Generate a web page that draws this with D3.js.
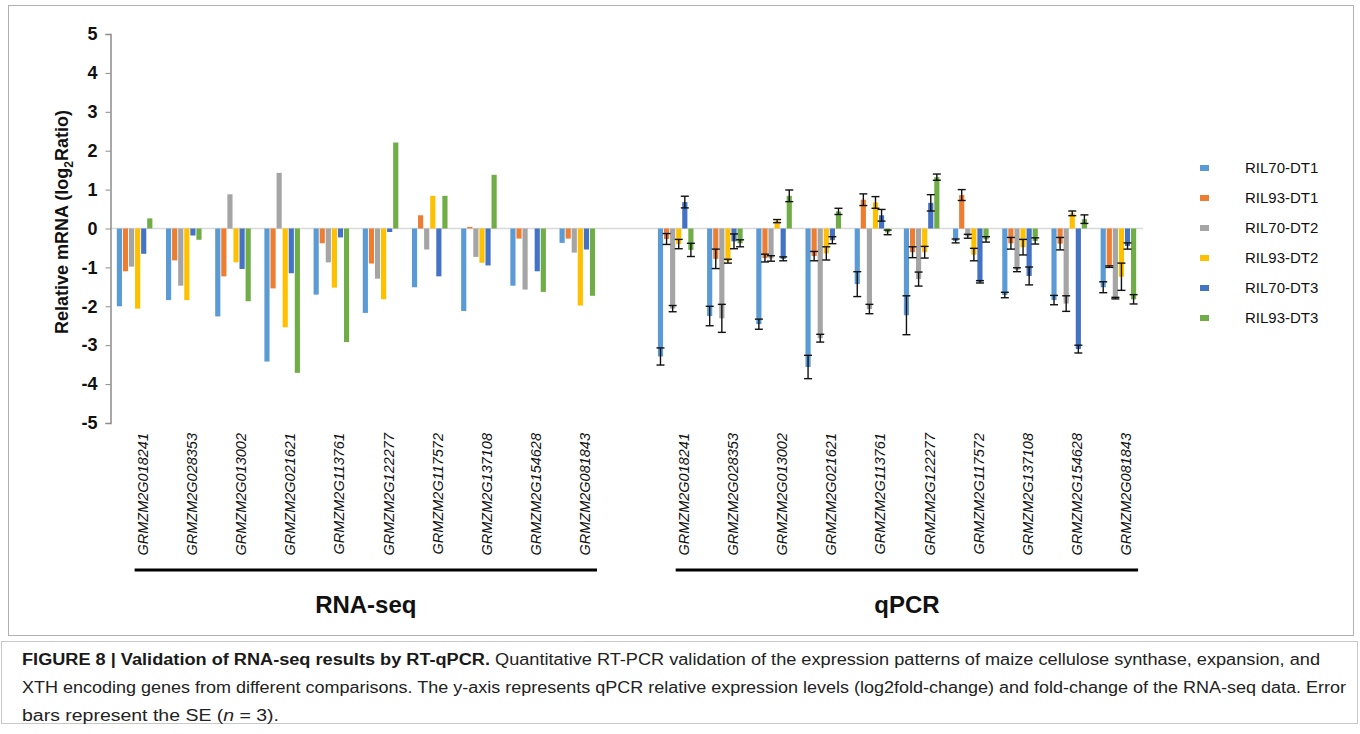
<!DOCTYPE html>
<html>
<head>
<meta charset="utf-8">
<script src="https://cdn.jsdelivr.net/npm/d3@7"></script>
<style>
  body { margin: 0; background: #fff; }
  svg { display: block; font-family: Arial, 'Liberation Sans', sans-serif; }
</style>
</head>
<body>
<div id="chart"></div>
<script>
const genes = [
  'GRMZM2G018241', 'GRMZM2G028353', 'GRMZM2G013002', 'GRMZM2G021621', 'GRMZM2G113761',
  'GRMZM2G122277', 'GRMZM2G117572', 'GRMZM2G137108', 'GRMZM2G154628', 'GRMZM2G081843'
]
const seriesNames = ['RIL70-DT1', 'RIL93-DT1', 'RIL70-DT2', 'RIL93-DT2', 'RIL70-DT3', 'RIL93-DT3']
const seriesColors = ['#5B9BD5', '#ED7D31', '#A5A5A5', '#FFC000', '#4472C4', '#70AD47']
const yTicks = [5, 4, 3, 2, 1, 0, -1, -2, -3, -4, -5]

// RNA-seq log2 ratios, one row per gene, columns follow seriesNames
const rnaSeq = [
  [-2.00, -1.10, -0.98, -2.06, -0.65, 0.26],
  [-1.84, -0.82, -1.47, -1.84, -0.18, -0.29],
  [-2.26, -1.23, 0.88, -0.87, -1.04, -1.87],
  [-3.42, -1.54, 1.43, -2.54, -1.15, -3.71],
  [-1.70, -0.38, -0.87, -1.52, -0.23, -2.92],
  [-2.17, -0.90, -1.29, -1.82, -0.09, 2.21],
  [-1.51, 0.34, -0.54, 0.84, -1.23, 0.84],
  [-2.12, 0.04, -0.73, -0.88, -0.95, 1.38],
  [-1.47, -0.26, -1.57, 0, -1.10, -1.63],
  [-0.37, -0.26, -0.62, -1.98, -0.54, -1.73]
]

// qPCR means and standard errors
const qpcr = [
  [-3.29, -0.27, -2.06, -0.40, 0.68, -0.55],
  [-2.25, -0.78, -2.31, -0.84, -0.33, -0.38],
  [-2.46, -0.76, -0.77, 0.19, -0.78, 0.84],
  [-3.56, -0.71, -2.82, -0.64, -0.30, 0.44],
  [-1.43, 0.74, -2.07, 0.67, 0.34, -0.10],
  [-2.23, -0.61, -1.30, -0.61, 0.66, 1.32],
  [-0.32, 0.86, -0.20, -0.67, -1.37, -0.28],
  [-1.71, -0.38, -1.06, -0.48, -1.22, -0.32],
  [-1.84, -0.39, -1.93, 0.39, -3.10, 0.24],
  [-1.51, -0.98, -1.79, -1.24, -0.45, -1.82]
]
const qpcrErr = [
  [0.22, 0.14, 0.08, 0.12, 0.15, 0.17],
  [0.25, 0.25, 0.36, 0.05, 0.19, 0.09],
  [0.13, 0.10, 0.07, 0.04, 0.05, 0.15],
  [0.30, 0.12, 0.10, 0.17, 0.09, 0.08],
  [0.32, 0.15, 0.12, 0.15, 0.15, 0.06],
  [0.50, 0.14, 0.18, 0.15, 0.21, 0.08],
  [0.05, 0.14, 0.05, 0.16, 0.03, 0.07],
  [0.07, 0.15, 0.05, 0.20, 0.23, 0.08],
  [0.12, 0.16, 0.20, 0.06, 0.10, 0.11],
  [0.14, 0.02, 0.02, 0.35, 0.08, 0.12]
]

const width = 1360
const height = 734

const svg = d3.select('#chart')
  .append('svg')
  .attr('width', width)
  .attr('height', height)

// outer frame of the chart and of the caption
svg.append('rect')
  .attr('x', 8.5).attr('y', 5.5)
  .attr('width', 1345).attr('height', 630)
  .attr('fill', 'none').attr('stroke', '#b0b0b0')

svg.append('rect')
  .attr('x', 1.5).attr('y', 641.5)
  .attr('width', 1356).attr('height', 82)
  .attr('fill', 'none').attr('stroke', '#c8c8c8')

// one band per gene, with an empty slot between the two methods
const keys = genes.map(g => 'rna|' + g).concat(['gap'], genes.map(g => 'qpcr|' + g))

const x0 = d3.scaleBand()
  .domain(keys)
  .range([110, 1143])
  .paddingInner(0.24)
  .paddingOuter(0.12)

const x1 = d3.scaleBand()
  .domain(seriesNames)
  .range([0, x0.bandwidth()])
  .padding(0.15)

const y = d3.scaleLinear()
  .domain([-5, 5])
  .range([423, 34])

// zero line
svg.append('line')
  .attr('x1', 110).attr('x2', 1143)
  .attr('y1', y(0)).attr('y2', y(0))
  .attr('stroke', '#d9d9d9').attr('stroke-width', 1.5)

// y axis
const yAxis = svg.append('g')
  .attr('transform', 'translate(110.5, 0)')
  .call(d3.axisLeft(y).tickValues(yTicks).tickSize(5).tickPadding(8).tickFormat(d3.format('d')))

yAxis.select('.domain').attr('stroke', '#8c8c8c').attr('stroke-width', 1.5)
yAxis.selectAll('.tick line').attr('stroke', '#8c8c8c')
yAxis.selectAll('.tick text')
  .attr('font-size', 18).attr('font-weight', 'bold').attr('fill', '#111')
  .attr('font-family', 'Arial, Liberation Sans, sans-serif')
  .text(d => d < 0 ? '-' + Math.abs(d) : d)

const yLabel = svg.append('text')
  .attr('transform', 'translate(68, 222) rotate(-90)')
  .attr('text-anchor', 'middle')
  .attr('font-size', 18).attr('font-weight', 'bold').attr('fill', '#111')
yLabel.append('tspan').text('Relative mRNA (log')
yLabel.append('tspan').attr('font-size', 12).attr('dy', 5).text('2')
yLabel.append('tspan').attr('dy', -5).text('Ratio)')

// bars
const drawGroup = (prefix, rows) => {
  const g = svg.append('g')
  rows.forEach((row, i) => {
    const gx = x0(prefix + '|' + genes[i])
    row.forEach((v, j) => {
      g.append('rect')
        .attr('x', gx + x1(seriesNames[j]))
        .attr('y', Math.min(y(v), y(0)))
        .attr('width', x1.bandwidth())
        .attr('height', Math.abs(y(v) - y(0)))
        .attr('fill', seriesColors[j])
    })
  })
}

drawGroup('rna', rnaSeq)
drawGroup('qpcr', qpcr)

// error bars on the qPCR bars
const errG = svg.append('g').attr('stroke', '#111').attr('stroke-width', 1.4)
qpcr.forEach((row, i) => {
  const gx = x0('qpcr|' + genes[i])
  row.forEach((v, j) => {
    const cx = gx + x1(seriesNames[j]) + x1.bandwidth() / 2
    const e = qpcrErr[i][j]
    const top = y(v + e)
    const bottom = y(v - e)
    errG.append('line').attr('x1', cx).attr('x2', cx).attr('y1', top).attr('y2', bottom)
    errG.append('line').attr('x1', cx - 4).attr('x2', cx + 4).attr('y1', top).attr('y2', top)
    errG.append('line').attr('x1', cx - 4).attr('x2', cx + 4).attr('y1', bottom).attr('y2', bottom)
  })
})

// rotated gene labels
keys.filter(k => k !== 'gap').forEach(k => {
  const cx = x0(k) + x0.bandwidth() / 2
  svg.append('text')
    .attr('transform', `translate(${cx + 13}, 433) rotate(-90)`)
    .attr('text-anchor', 'end')
    .attr('font-size', 14.5)
    .attr('font-style', 'italic')
    .attr('fill', '#111')
    .text(k.split('|')[1])
})

// method brackets and names, the bracket runs from the first gene's centre
const methods = [['rna', 'RNA-seq'], ['qpcr', 'qPCR']]
methods.forEach(([prefix, name]) => {
  const left = x0(prefix + '|' + genes[0]) + x0.bandwidth() / 2
  const right = x0(prefix + '|' + genes[genes.length - 1]) + x0.bandwidth() + 1
  svg.append('line')
    .attr('x1', left).attr('x2', right)
    .attr('y1', 570).attr('y2', 570)
    .attr('stroke', '#000').attr('stroke-width', 3)
  svg.append('text')
    .attr('x', (left + right) / 2).attr('y', 613)
    .attr('text-anchor', 'middle')
    .attr('font-size', 24).attr('font-weight', 'bold').attr('fill', '#111')
    .text(name)
})

// legend
const legend = svg.append('g')
seriesNames.forEach((name, j) => {
  const ly = 168 + j * 30
  legend.append('rect')
    .attr('x', 1200).attr('y', ly - 3)
    .attr('width', 9).attr('height', 6)
    .attr('fill', seriesColors[j])
  legend.append('text')
    .attr('x', 1245).attr('y', ly + 5)
    .attr('font-size', 15).attr('fill', '#111')
    .text(name)
})

// caption
const caption = svg.append('g')
  .attr('font-family', 'Liberation Sans Narrow, Arial Narrow, Liberation Sans, sans-serif')
  .attr('font-size', 16)
  .attr('fill', '#222')

const line1 = caption.append('text').attr('x', 22).attr('y', 665)
  .attr('textLength', 1298).attr('lengthAdjust', 'spacingAndGlyphs')
line1.append('tspan').attr('font-weight', 'bold').attr('fill', '#1a1a1a')
  .text('FIGURE 8 | Validation of RNA-seq results by RT-qPCR.')
line1.append('tspan')
  .text(' Quantitative RT-PCR validation of the expression patterns of maize cellulose synthase, expansion, and')

caption.append('text').attr('x', 22).attr('y', 693)
  .attr('textLength', 1324).attr('lengthAdjust', 'spacingAndGlyphs')
  .text('XTH encoding genes from different comparisons. The y-axis represents qPCR relative expression levels (log2fold-change) and fold-change of the RNA-seq data. Error')

const line3 = caption.append('text').attr('x', 22).attr('y', 721)
  .attr('textLength', 257).attr('lengthAdjust', 'spacingAndGlyphs')
line3.append('tspan').text('bars represent the SE (')
line3.append('tspan').attr('font-style', 'italic').text('n')
line3.append('tspan').text(' = 3).')
</script>
</body>
</html>
